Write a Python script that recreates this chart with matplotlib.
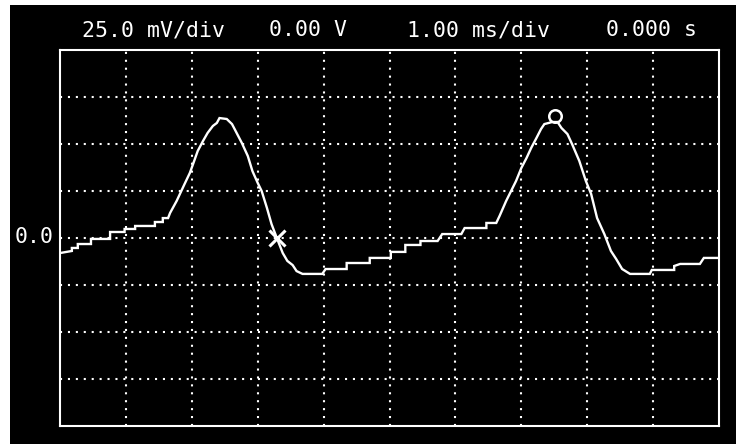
import matplotlib
matplotlib.use('Agg')
import matplotlib.pyplot as plt
from matplotlib.patches import Rectangle

# scope settings shown in the header
header_labels = ['25.0 mV/div', '0.00 V', '1.00 ms/div', '0.000 s']
ref_label = '0.0'

mv_per_div = 25.0
ms_per_div = 1.0

# captured trace: time in ms, voltage in mV
t_ms = [0.00, 0.18, 0.18, 0.27, 0.27, 0.47, 0.47, 0.76, 0.76, 0.98,
        0.98, 1.14, 1.14, 1.44, 1.44, 1.56, 1.56, 1.64, 1.67, 1.77,
        1.89, 1.97, 2.02, 2.09, 2.17, 2.24, 2.32, 2.38, 2.42, 2.53,
        2.61, 2.68, 2.76, 2.85, 2.92, 3.00, 3.06, 3.14, 3.21, 3.29,
        3.38, 3.45, 3.53, 3.59, 3.68, 3.98, 4.03, 4.35, 4.35, 4.70,
        4.70, 5.02, 5.02, 5.24, 5.24, 5.47, 5.47, 5.73, 5.76, 5.80,
        6.09, 6.14, 6.47, 6.47, 6.62, 6.67, 6.77, 6.92, 7.00, 7.08,
        7.15, 7.23, 7.30, 7.35, 7.47, 7.55, 7.61, 7.70, 7.77, 7.88,
        7.98, 8.06, 8.15, 8.26, 8.36, 8.44, 8.53, 8.65, 8.95, 8.98,
        9.32, 9.32, 9.41, 9.71, 9.77, 10.00]
v_mv = [-8.0, -6.9, -5.3, -5.3, -3.2, -3.2, -0.5, -0.5, 3.2, 3.2,
        4.8, 4.8, 6.4, 6.4, 8.5, 8.5, 10.6, 10.6, 13.3, 19.7,
        28.7, 34.6, 39.4, 46.3, 51.6, 55.9, 59.6, 61.2, 63.8, 63.3,
        60.6, 55.9, 50.5, 43.6, 35.6, 29.3, 25.0, 16.0, 7.4, 0.0,
        -8.0, -12.2, -14.4, -17.6, -19.1, -19.1, -16.5, -16.5, -13.3, -13.3,
        -10.6, -10.6, -7.4, -7.4, -3.7, -3.7, -1.6, -1.6, 0.0, 2.1,
        2.1, 5.3, 5.3, 8.0, 8.0, 11.7, 19.7, 30.3, 37.2, 42.6,
        47.9, 53.2, 58.0, 60.6, 61.7, 61.7, 58.5, 55.3, 50.0, 41.0,
        30.3, 23.4, 10.6, 2.1, -6.9, -11.2, -16.5, -19.1, -19.1, -17.0,
        -17.0, -14.9, -13.8, -13.8, -10.6, -10.6]

# cursor markers
cursor_x = (3.29, 0.0)
cursor_o = (7.51, 64.9)

W, H = 736, 444
fig = plt.figure(figsize=(W / 100, H / 100), dpi=100)
fig.patch.set_facecolor('white')

# black screen area, kept under the axes
fig.patches.append(Rectangle((10 / W, 0), 1 - 10 / W, 1 - 5 / H,
                             transform=fig.transFigure, facecolor='black',
                             edgecolor='none', zorder=-10))

ax = fig.add_axes([60 / W, 18 / H, 659 / W, 376 / H])
ax.set_zorder(5)
ax.set_facecolor('black')
ax.set_xlim(0, 10 * ms_per_div)
ax.set_ylim(-4 * mv_per_div, 4 * mv_per_div)
ax.set_xticks([i * ms_per_div for i in range(1, 10)])
ax.set_yticks([i * mv_per_div for i in range(-3, 4)])
ax.tick_params(left=False, bottom=False, labelleft=False, labelbottom=False)
for s in ax.spines.values():
    s.set_color('white')
    s.set_linewidth(1.5)
ax.grid(True, color='white', linestyle=(0, (1, 2.8)), linewidth=1.5)

ax.plot(t_ms, v_mv, color='white', lw=1.7, solid_joinstyle='miter')
ax.plot(*cursor_x, marker='x', ms=11, mew=2.2, color='white')
ax.plot(*cursor_o, marker='o', ms=9, mew=1.8, color='white', fillstyle='none')

mono = dict(family='DejaVu Sans Mono', color='white', fontsize=15.5,
            ha='center', va='center', zorder=10)
for label, cx in zip(header_labels, [153, 308, 478, 652]):
    fig.text(cx / W, 1 - 30 / H, label, **mono)
fig.text(34 / W, 1 - 237 / H, ref_label, **mono)

fig.savefig('out.png', dpi=100, facecolor=fig.get_facecolor())
